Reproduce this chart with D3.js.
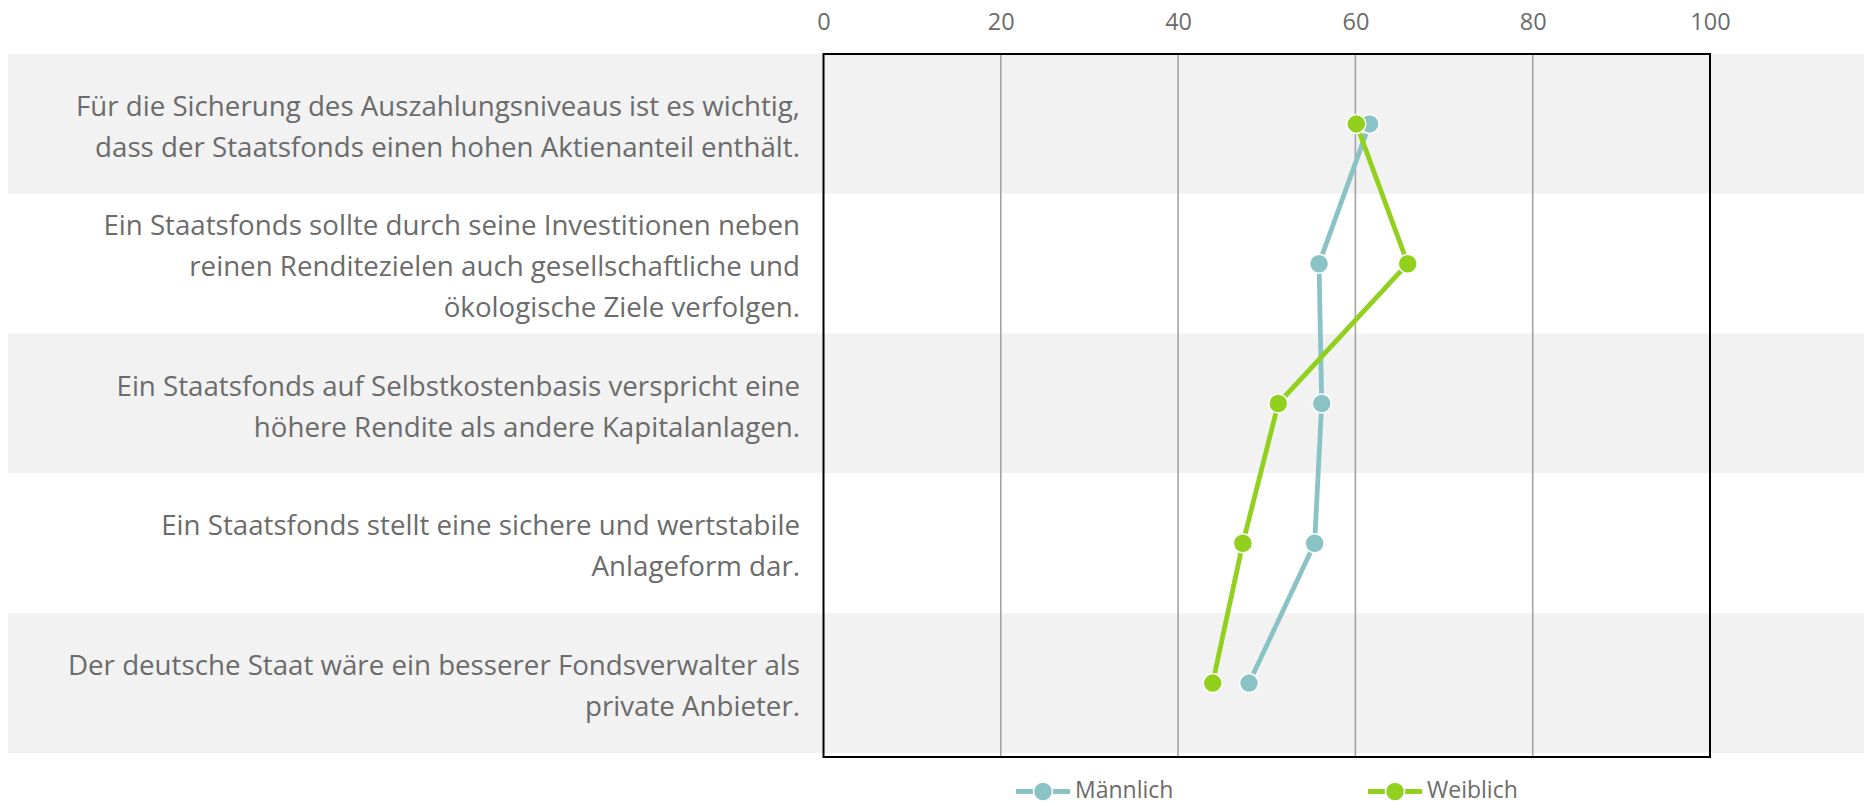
<!DOCTYPE html>
<html><head><meta charset="utf-8">
<script src="https://cdn.jsdelivr.net/npm/d3@7"></script>
<style>body{margin:0;background:#fff}svg{display:block}</style>
</head><body><svg id="c" width="1864" height="805"></svg>
<script>
const categories = [
 ["Für die Sicherung des Auszahlungsniveaus ist es wichtig,","dass der Staatsfonds einen hohen Aktienanteil enthält."],
 ["Ein Staatsfonds sollte durch seine Investitionen neben","reinen Renditezielen auch gesellschaftliche und","ökologische Ziele verfolgen."],
 ["Ein Staatsfonds auf Selbstkostenbasis verspricht eine","höhere Rendite als andere Kapitalanlagen."],
 ["Ein Staatsfonds stellt eine sichere und wertstabile","Anlageform dar."],
 ["Der deutsche Staat wäre ein besserer Fondsverwalter als","private Anbieter."]
];
const maennlich = [61.6, 55.9, 56.2, 55.4, 48.0];
const weiblich = [60.1, 65.9, 51.3, 47.3, 43.9];
const xTicks = [0, 20, 40, 60, 80, 100];
const seriesNames = ["Männlich", "Weiblich"];
const seriesColors = ["#8AC3C6", "#92D01E"];

const svg = d3.select("#c");
const font = "'Open Sans', sans-serif";
const textColor = "#6b6b6b";
const x = d3.scaleLinear().domain([0, 100]).range([823.5, 1710]);
const y = d3.scaleBand().domain(d3.range(categories.length)).range([54, 753]).padding(0);

// background bands
svg.append("g").selectAll("rect").data(categories).join("rect")
  .attr("x", 8).attr("width", 1864 - 8)
  .attr("y", (d, i) => y(i)).attr("height", y.bandwidth())
  .attr("fill", (d, i) => i % 2 === 0 ? "#f2f2f2" : "#ffffff");

// gridlines
svg.append("g").selectAll("line").data(xTicks.filter(t => t > 0 && t < 100)).join("line")
  .attr("x1", d => x(d)).attr("x2", d => x(d))
  .attr("y1", 54).attr("y2", 757)
  .attr("stroke", "#a3a3a3").attr("stroke-width", 1.6);

// plot border
svg.append("rect").attr("x", x(0)).attr("y", 54)
  .attr("width", x(100) - x(0)).attr("height", 757 - 54)
  .attr("fill", "none").attr("stroke", "#000").attr("stroke-width", 2);

// top axis
const ax = svg.append("g").attr("transform", "translate(0,30)")
  .call(d3.axisTop(x).tickValues(xTicks).tickSize(0).tickPadding(0));
ax.select(".domain").remove();
ax.selectAll("text").attr("font-family", font).attr("font-size", 23.5)
  .attr("fill", textColor).attr("dy", "0em");

// category labels
const lab = svg.append("g");
categories.forEach((lines, i) => {
  const cy = y(i) + y.bandwidth() / 2 + 3;
  const lh = 41;
  const t = lab.append("text").attr("text-anchor", "end")
    .attr("font-family", font).attr("font-size", 27.7).attr("fill", textColor);
  lines.forEach((ln, j) => {
    t.append("tspan").attr("x", 800)
      .attr("y", cy + (j - (lines.length - 1) / 2) * lh)
      .attr("dy", "0.35em").text(ln);
  });
});

// series
const series = [maennlich, weiblich];
const line = d3.line().x(d => x(d.v)).y(d => y(d.i) + y.bandwidth() / 2);
series.forEach((vals, s) => {
  const pts = vals.map((v, i) => ({v, i}));
  const g = svg.append("g");
  g.append("path").datum(pts).attr("d", line)
    .attr("fill", "none").attr("stroke", seriesColors[s]).attr("stroke-width", 4.8)
    .attr("stroke-linejoin", "round");
  g.selectAll("circle").data(pts).join("circle")
    .attr("cx", d => x(d.v)).attr("cy", d => y(d.i) + y.bandwidth() / 2)
    .attr("r", 9.5).attr("fill", seriesColors[s])
    .attr("stroke", "#fff").attr("stroke-width", 1.5);
});

// legend
const legendX = [1016, 1368];
const ly = 791.5;
seriesNames.forEach((name, s) => {
  const g = svg.append("g").attr("transform", `translate(${legendX[s]},${ly})`);
  g.append("line").attr("x1", 0).attr("x2", 54).attr("y1", 0).attr("y2", 0)
    .attr("stroke", seriesColors[s]).attr("stroke-width", 4.8);
  g.append("circle").attr("cx", 27).attr("cy", 0).attr("r", 9.5)
    .attr("fill", seriesColors[s]).attr("stroke", "#fff").attr("stroke-width", 1.5);
  g.append("text").attr("x", 59).attr("y", 6.5)
    .attr("font-family", font).attr("font-size", 23).attr("fill", textColor).text(name);
});
</script></body></html>
